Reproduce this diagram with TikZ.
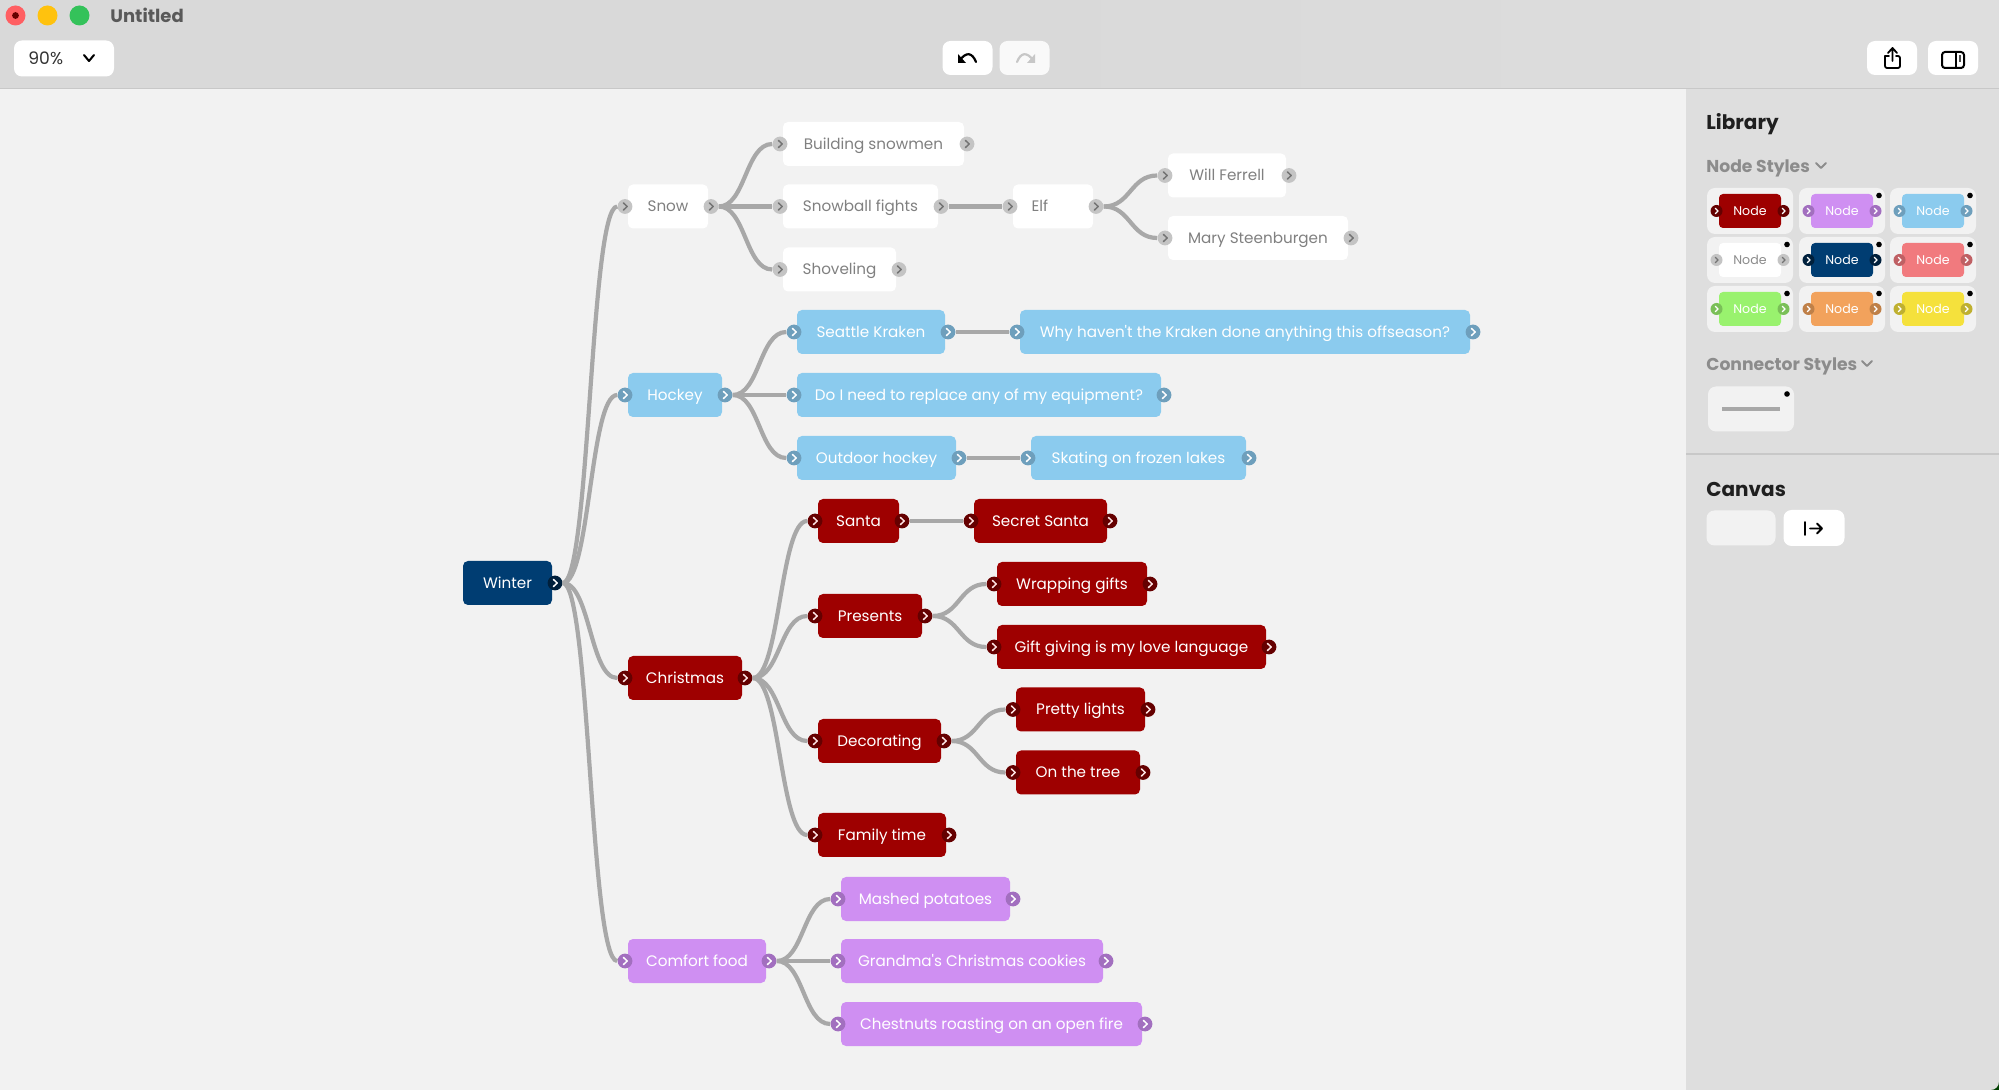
\documentclass[tikz,border=0pt]{standalone}
\usepackage{fontspec}
\setmainfont{Poppins}
\newfontfamily\popf{Poppins}
\usetikzlibrary{calc}
\definecolor{bgc}{HTML}{F2F2F2}
\definecolor{barc}{HTML}{D9D9D9}
\definecolor{panelc}{HTML}{DEDEDE}
\definecolor{linec}{HTML}{C8C8C8}
\definecolor{connc}{HTML}{A8A8A8}
\definecolor{redc}{HTML}{9E0000}
\definecolor{redh}{HTML}{650000}
\definecolor{purc}{HTML}{CF8FF2}
\definecolor{purh}{HTML}{A26FBF}
\definecolor{bluc}{HTML}{8BCBEE}
\definecolor{bluh}{HTML}{6E9FBC}
\definecolor{whih}{HTML}{C4C4C4}
\definecolor{navc}{HTML}{003D72}
\definecolor{navh}{HTML}{00203C}
\definecolor{pinc}{HTML}{F17A7E}
\definecolor{pinh}{HTML}{BF6064}
\definecolor{grnc}{HTML}{99F26E}
\definecolor{grnh}{HTML}{7ABF58}
\definecolor{orac}{HTML}{F2A25C}
\definecolor{orah}{HTML}{BF8048}
\definecolor{yelc}{HTML}{F5E13C}
\definecolor{yelh}{HTML}{BFB030}
\definecolor{tlr}{HTML}{FF5F62}
\definecolor{tly}{HTML}{FFC20E}
\definecolor{tlg}{HTML}{34C25A}
\tikzset{
  x=0.5pt,y=-0.5pt,
  boxbase/.style={rectangle,rounded corners=2.5pt,inner sep=0pt,minimum height=22pt,font=\fontsize{7.6pt}{10pt}\popf,text height=5.3pt,text depth=0pt,anchor=center},
  redbox/.style={boxbase,fill=redc,text=white},
  purbox/.style={boxbase,fill=purc,text=white},
  blubox/.style={boxbase,fill=bluc,text=white},
  whibox/.style={boxbase,fill=white,text=black!50},
  navbox/.style={boxbase,fill=navc,text=white},
  hdl/.style={circle,inner sep=0pt,minimum size=7.4pt},
  chev/.style={line width=0.75pt,line cap=round,line join=round},
  conn/.style={draw=connc,line width=2.1pt},
  btn/.style={rectangle,rounded corners=4pt,fill=white,inner sep=0pt},
  swatch/.style={rectangle,rounded corners=4pt,fill=bgc,inner sep=0pt,minimum width=43pt,minimum height=23pt},
  dotk/.style={circle,fill=black,inner sep=0pt,minimum size=2.8pt},
  hd/.style={font=\fontsize{10pt}{12pt}\selectfont\bfseries,text=black!88,anchor=west,inner sep=0pt},
  sub/.style={font=\fontsize{8.6pt}{10pt}\selectfont\bfseries,text=black!45,anchor=west,inner sep=0pt},
  ico/.style={line width=0.9pt,line cap=round,line join=round},
}
% name, x0, x1, yc, box style, handle colour, chevron colour, text
\newcommand{\mnode}[8]{%
  \node[#5,minimum width={(#3-#2)*0.5pt}] (#1) at ({(#2+#3)/2},#4) {#8};
  \node[hdl,fill=#6] (#1L) at ({#2-3},#4) {};
  \node[hdl,fill=#6] (#1R) at ({#3+3},#4) {};
  \draw[chev,draw=#7] ($(#1L)+(-1.5,-3.5)$) -- ($(#1L)+(2.2,0)$) -- ($(#1L)+(-1.5,3.5)$);
  \draw[chev,draw=#7] ($(#1R)+(-1.5,-3.5)$) -- ($(#1R)+(2.2,0)$) -- ($(#1R)+(-1.5,3.5)$);
}
\newcommand{\rn}[5]{\mnode{#1}{#2}{#3}{#4}{redbox}{redh}{white!90!red}{#5}}
\newcommand{\pn}[5]{\mnode{#1}{#2}{#3}{#4}{purbox}{purh}{white}{#5}}
\newcommand{\bn}[5]{\mnode{#1}{#2}{#3}{#4}{blubox}{bluh}{white}{#5}}
\newcommand{\wn}[5]{\mnode{#1}{#2}{#3}{#4}{whibox}{whih}{black!55}{#5}}
\newcommand{\lnk}[2]{%
  \coordinate (m#1#2) at ($(#1R.east)!.5!(#2L.west)$);
  \draw[conn] (#1R.east) .. controls (m#1#2 |- #1R.east) and (m#1#2 |- #2L.west) .. (#2L.west);
}
% swatch: name cx cy fill handle chevron text
\newcommand{\swt}[7]{%
  \node[swatch] (#1) at (#2,#3) {};
  \node[rectangle,rounded corners=2pt,fill=#4,inner sep=0pt,minimum width=31pt,minimum height=17pt,text=#7,font=\fontsize{6.3pt}{8pt}\selectfont] (#1b) at (#2,#3) {Node};
  \node[hdl,minimum size=6pt,fill=#5] (#1l) at ({#2-33.5},#3) {};
  \node[hdl,minimum size=6pt,fill=#5] (#1r) at ({#2+33.5},#3) {};
  \draw[chev,line width=0.6pt,draw=#6] ($(#1l)+(-1.2,-2.6)$) -- ($(#1l)+(1.6,0)$) -- ($(#1l)+(-1.2,2.6)$);
  \draw[chev,line width=0.6pt,draw=#6] ($(#1r)+(-1.2,-2.6)$) -- ($(#1r)+(1.6,0)$) -- ($(#1r)+(-1.2,2.6)$);
}
\begin{document}
\begin{tikzpicture}
\useasboundingbox (0,0) rectangle (1999,1090);
% window
\fill[bgc] (0,0) rectangle (1999,1090);
\fill[panelc] (1686,88) rectangle (1999,1090);
\fill[barc] (0,0) rectangle (1000,88);
\shade[left color=barc,right color=panelc] (1000,0) rectangle (1999,88);
\draw[linec,line width=0.7pt] (0,88.5) -- (1999,88.5);
\draw[linec,line width=0.7pt] (1686,454) -- (1999,454);
\fill[black!75!green] (1999,0) -- (1982,0) arc[start angle=90,end angle=0,radius=17] -- cycle;
\fill[black!75!green] (1999,1090) -- (1999,1082) arc[start angle=0,end angle=90,radius=8] -- cycle;
% traffic lights
\node[circle,fill=tlr,inner sep=0pt,minimum size=10pt] (tl1) at (15.5,15.5) {};
\node[circle,fill=red!40!black,inner sep=0pt,minimum size=3.4pt] (tl1d) at (15.5,15.5) {};
\node[circle,fill=tly,inner sep=0pt,minimum size=10pt] (tl2) at (47.5,15.5) {};
\node[circle,fill=tlg,inner sep=0pt,minimum size=10pt] (tl3) at (79.5,15.5) {};
\node[font=\fontsize{9pt}{11pt}\selectfont\bfseries,text=black!65,anchor=west,inner sep=0pt] (title) at (110,15.5) {Untitled};
% toolbar buttons
\node[btn,minimum width=50pt,minimum height=18pt] (zoombtn) at (64,58.5) {};
\node[font=\fontsize{8.6pt}{10pt}\selectfont,text=black!80,anchor=west,inner sep=0pt] (zoomt) at (28,58.5) {90\%};
\coordinate (zc1) at (84,55); \coordinate (zc2) at (89,61); \coordinate (zc3) at (94,55);
\draw[ico,line width=1pt] (zc1) -- (zc2) -- (zc3);
\node[btn,minimum width=25pt,minimum height=17pt] (undo) at (967.5,58) {};
\node[btn,minimum width=25pt,minimum height=17pt,fill=white!85!barc] (redo) at (1024.5,58) {};
\draw[line width=1.1pt,line cap=round] (960,60) .. controls (966,52) and (972,52) .. (976,62);
\fill (958,54) -- (958,63) -- (966,63) -- cycle;
\draw[line width=1.1pt,line cap=round,black!22] (1033,60) .. controls (1027,52) and (1021,52) .. (1017,62);
\fill[black!22] (1035,54) -- (1035,63) -- (1027,63) -- cycle;
\node[btn,minimum width=25pt,minimum height=17pt] (share) at (1892,58) {};
\node[btn,minimum width=25pt,minimum height=17pt] (side) at (1953,58) {};
\draw[ico,rounded corners=1pt] (1885,56) -- (1885,68) -- (1900,68) -- (1900,56) -- (1896,56);
\draw[ico] (1889,56) -- (1885,56);
\draw[ico] (1892.5,61) -- (1892.5,48) (1888,53) -- (1892.5,48) -- (1897,53);
\draw[ico,line width=1pt,rounded corners=1.5pt] (1942,52) rectangle (1964,68);
\fill (1955,52) rectangle (1956.5,68);
\fill[black!70] (1958.5,55) rectangle (1961,62);
% library
\node[hd] (lib) at (1706,124.5) {Library};
\node[sub] (ns) at (1706,168) {Node Styles};
\coordinate (nsa) at (1816,163); \coordinate (nsb) at (1821,168); \coordinate (nsc) at (1826,163);
\draw[ico,black!45] (nsa) -- (nsb) -- (nsc);
\swt{s1}{1750}{211}{redc}{redh}{white}{white}
\swt{s2}{1842}{211}{purc}{purh}{white}{white}
\swt{s3}{1933}{211}{bluc}{bluh}{white}{white}
\swt{s4}{1750}{260}{white}{whih}{black!55}{black!45}
\swt{s5}{1842}{260}{navc}{navh}{white}{white}
\swt{s6}{1933}{260}{pinc}{pinh}{white}{white}
\swt{s7}{1750}{309}{grnc}{grnh}{white}{white}
\swt{s8}{1842}{309}{orac}{orah}{white}{white}
\swt{s9}{1933}{309}{yelc}{yelh}{white}{white}
\node[dotk] (d2) at (1879,195.5) {};
\node[dotk] (d3) at (1970,195.5) {};
\node[dotk] (d4) at (1787,244.5) {};
\node[dotk] (d5) at (1879,244.5) {};
\node[dotk] (d6) at (1970,244.5) {};
\node[dotk] (d7) at (1787,293.5) {};
\node[dotk] (d8) at (1879,293.5) {};
\node[dotk] (d9) at (1970,293.5) {};
\node[sub] (cs) at (1706,366) {Connector Styles};
\coordinate (csa) at (1862,361); \coordinate (csb) at (1867,366); \coordinate (csc) at (1872,361);
\draw[ico,black!45] (csa) -- (csb) -- (csc);
\node[swatch,minimum height=22.5pt] (cbox) at (1751,409) {};
\coordinate (cl1) at (1722,409); \coordinate (cl2) at (1780,409);
\draw[connc,line width=2pt] (cl1) -- (cl2);
\node[dotk] (dc) at (1787,394) {};
\node[hd] (can) at (1706,489) {Canvas};
\node[swatch,minimum width=34.5pt,minimum height=17.5pt] (cv1) at (1741,528) {};
\node[btn,minimum width=30.5pt,minimum height=18pt] (cv2) at (1814,528) {};
\draw[ico] (1805,522) -- (1805,535) (1810,528.5) -- (1822,528.5) (1817,523.5) -- (1822,528.5) -- (1817,533.5);
% root node: right handle only
\node[navbox,minimum width=44.5pt] (winter) at (507.5,583) {Winter};
\node[hdl,fill=navh] (winterR) at (555,583) {};
\draw[chev,draw=white] ($(winterR)+(-1.5,-3.5)$) -- ($(winterR)+(2.2,0)$) -- ($(winterR)+(-1.5,3.5)$);
% nodes
\wn{snow}{628}{708}{206.5}{Snow}
\wn{build}{783}{964}{144}{Building snowmen}
\wn{ball}{783}{938}{206.5}{Snowball fights}
\wn{shov}{783}{896}{269.5}{Shoveling}
\wn{elf}{1013}{1093}{206.5}{\makebox[21.5pt][l]{Elf}}
\wn{will}{1168}{1286}{175.5}{Will Ferrell}
\wn{mary}{1168}{1348}{238}{Mary Steenburgen}
\bn{hock}{628}{722}{395}{Hockey}
\bn{krak}{797}{945}{332}{Seattle Kraken}
\bn{why}{1020}{1470}{332}{Why haven't the Kraken done anything this offseason?}
\bn{equi}{797}{1161}{395}{Do I need to replace any of my equipment?}
\bn{outd}{797}{956}{458}{Outdoor hockey}
\bn{skat}{1031}{1246}{458}{Skating on frozen lakes}
\rn{xmas}{628}{742}{678}{Christmas}
\rn{santa}{818}{899}{521}{Santa}
\rn{secr}{974}{1107}{521}{Secret Santa}
\rn{pres}{818}{922}{616}{Presents}
\rn{wrap}{997}{1147}{584}{Wrapping gifts}
\rn{gift}{997}{1266}{647}{Gift giving is my love language}
\rn{deco}{818}{941}{741}{Decorating}
\rn{pret}{1016}{1145}{709.5}{Pretty lights}
\rn{tree}{1016}{1140}{772.5}{On the tree}
\rn{fami}{818}{946}{835}{Family time}
\pn{comf}{628}{766}{961}{Comfort food}
\pn{mash}{841}{1010}{899}{Mashed potatoes}
\pn{gran}{841}{1103}{961}{Grandma's Christmas cookies}
\pn{ches}{841}{1142}{1024}{Chestnuts roasting on an open fire}
% connectors
\lnk{winter}{snow}\lnk{winter}{hock}\lnk{winter}{xmas}\lnk{winter}{comf}
\lnk{snow}{build}\lnk{snow}{ball}\lnk{snow}{shov}\lnk{ball}{elf}\lnk{elf}{will}\lnk{elf}{mary}
\lnk{hock}{krak}\lnk{hock}{equi}\lnk{hock}{outd}\lnk{krak}{why}\lnk{outd}{skat}
\lnk{xmas}{santa}\lnk{xmas}{pres}\lnk{xmas}{deco}\lnk{xmas}{fami}
\lnk{santa}{secr}\lnk{pres}{wrap}\lnk{pres}{gift}\lnk{deco}{pret}\lnk{deco}{tree}
\lnk{comf}{mash}\lnk{comf}{gran}\lnk{comf}{ches}
\end{tikzpicture}
\end{document}
